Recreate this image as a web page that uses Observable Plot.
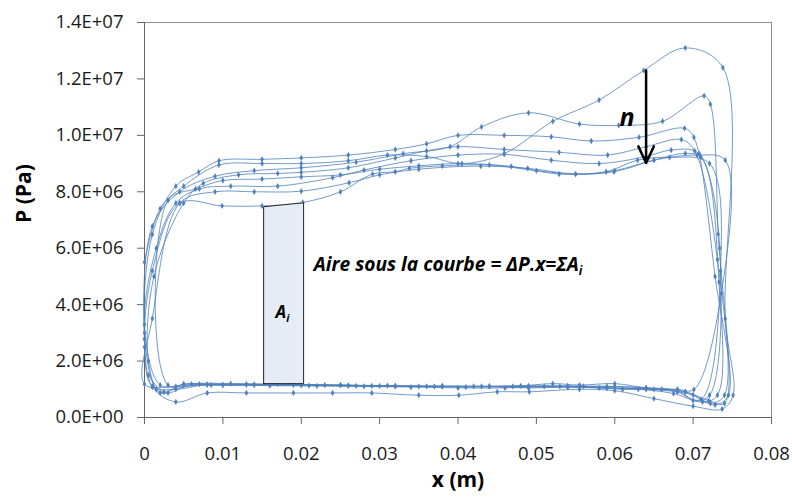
<!DOCTYPE html>
<html><head><meta charset="utf-8">
<script src="https://cdn.jsdelivr.net/npm/d3@7"></script>
<script src="https://cdn.jsdelivr.net/npm/@observablehq/plot@0.6"></script>
<style>
body{margin:0;background:#fff;}
</style></head><body><div id="chart"></div>
<script>
// P–x cycles, [x (m), P (Pa)], in recording order
const cycle1 = [[0.0000,5.5e6],[0.0020,7.4e6],[0.0050,8.2e6],[0.0095,8.95e6],[0.0150,9.0e6],[0.0200,9.0e6],[0.0260,9.1e6],[0.0310,9.3e6],[0.0360,9.25e6],[0.0405,9.0e6],[0.0459,9.35e6],[0.0521,10.5e6],[0.0580,11.25e6],[0.0637,12.3e6],[0.0690,13.1e6],[0.0738,12.4e6],[0.0741,3.5e6],[0.0751,0.79e6],[0.0737,0.3e6],[0.0700,0.4e6],[0.0650,0.67e6],[0.0600,0.95e6],[0.0555,1.0e6],[0.0491,0.91e6],[0.0450,0.91e6],[0.0401,0.79e6],[0.0350,0.79e6],[0.0290,0.87e6],[0.0240,0.87e6],[0.0190,0.87e6],[0.0130,0.87e6],[0.0080,0.87e6],[0.0040,0.55e6],[0.0010,1.09e6]];
const cycle2 = [[0.0000,2.78e6],[0.0010,6.78e6],[0.0045,8.0e6],[0.0090,8.55e6],[0.0140,8.75e6],[0.0200,8.85e6],[0.0270,9.05e6],[0.0330,9.35e6],[0.0390,9.6e6],[0.0430,10.3e6],[0.0490,10.8e6],[0.0555,10.4e6],[0.0605,10.35e6],[0.0661,10.5e6],[0.0714,11.4e6],[0.0722,11.1e6],[0.0732,6.5e6],[0.0740,0.5e6],[0.0720,0.6e6],[0.0690,0.91e6],[0.0640,1.05e6],[0.0600,1.2e6],[0.0555,1.15e6],[0.0521,1.2e6],[0.0470,1.1e6],[0.0410,1.08e6],[0.0350,1.1e6],[0.0290,1.12e6],[0.0230,1.15e6],[0.0170,1.18e6],[0.0110,1.2e6],[0.0060,1.18e6],[0.0030,0.87e6],[0.0015,1.0e6]];
const cycle3 = [[0.0000,3.0e6],[0.0010,6.49e6],[0.0040,8.2e6],[0.0069,8.7e6],[0.0095,9.1e6],[0.0150,9.15e6],[0.0200,9.2e6],[0.0260,9.3e6],[0.0320,9.5e6],[0.0360,9.7e6],[0.0400,10.0e6],[0.0459,10.0e6],[0.0519,9.95e6],[0.0570,9.8e6],[0.0631,9.93e6],[0.0689,10.25e6],[0.0701,9.93e6],[0.0728,5.0e6],[0.0745,0.79e6],[0.0728,0.45e6],[0.0700,0.8e6],[0.0660,1.0e6],[0.0600,1.1e6],[0.0540,1.09e6],[0.0490,1.05e6],[0.0440,1.1e6],[0.0380,1.1e6],[0.0320,1.12e6],[0.0260,1.12e6],[0.0200,1.15e6],[0.0140,1.15e6],[0.0085,1.15e6],[0.0050,1.18e6],[0.0020,0.87e6]];
const cycle4 = [[0.0005,2.0e6],[0.0012,5.0e6],[0.0050,7.6e6],[0.0075,8.3e6],[0.0120,8.6e6],[0.0170,8.65e6],[0.0200,8.69e6],[0.0260,8.85e6],[0.0320,9.2e6],[0.0360,9.45e6],[0.0400,9.6e6],[0.0459,9.5e6],[0.0529,9.4e6],[0.0591,9.3e6],[0.0640,9.6e6],[0.0685,9.85e6],[0.0702,9.45e6],[0.0731,5.6e6],[0.0740,0.79e6],[0.0722,0.5e6],[0.0690,0.91e6],[0.0650,1.0e6],[0.0610,1.0e6],[0.0560,1.1e6],[0.0510,1.1e6],[0.0460,1.05e6],[0.0400,1.05e6],[0.0340,1.08e6],[0.0280,1.1e6],[0.0220,1.12e6],[0.0160,1.13e6],[0.0100,1.15e6],[0.0050,1.15e6],[0.0020,1.15e6]];
const cycle5 = [[0.0000,3.3e6],[0.0015,6.0e6],[0.0040,7.6e6],[0.0070,8.1e6],[0.0110,8.2e6],[0.0170,8.2e6],[0.0240,8.5e6],[0.0280,8.77e6],[0.0340,9.1e6],[0.0400,9.3e6],[0.0459,9.33e6],[0.0519,9.12e6],[0.0580,9.0e6],[0.0640,9.25e6],[0.0672,9.48e6],[0.0708,9.34e6],[0.0733,4.8e6],[0.0731,0.79e6],[0.0712,0.55e6],[0.0675,0.85e6],[0.0630,1.0e6],[0.0580,1.05e6],[0.0530,1.1e6],[0.0480,1.12e6],[0.0420,1.1e6],[0.0360,1.1e6],[0.0300,1.12e6],[0.0250,1.15e6],[0.0190,1.16e6],[0.0130,1.16e6],[0.0080,1.16e6],[0.0040,1.1e6],[0.0000,1.18e6]];
const cycle6 = [[0.0010,3.51e6],[0.0045,7.6e6],[0.0090,8.0e6],[0.0140,8.0e6],[0.0200,8.02e6],[0.0261,8.32e6],[0.0300,8.6e6],[0.0350,8.8e6],[0.0429,8.91e6],[0.0489,8.83e6],[0.0550,8.63e6],[0.0599,8.71e6],[0.0650,9.12e6],[0.0690,9.36e6],[0.0710,9.22e6],[0.0734,6.0e6],[0.0721,0.79e6],[0.0700,0.6e6],[0.0680,0.95e6],[0.0640,1.05e6],[0.0590,1.1e6],[0.0540,1.12e6],[0.0490,1.12e6],[0.0430,1.1e6],[0.0370,1.1e6],[0.0310,1.13e6],[0.0250,1.15e6],[0.0190,1.17e6],[0.0130,1.18e6],[0.0070,1.18e6],[0.0030,1.15e6]];
const cycle7 = [[0.0030,7.7e6],[0.0065,8.1e6],[0.0100,8.4e6],[0.0150,8.45e6],[0.0200,8.53e6],[0.0250,8.6e6],[0.0300,8.8e6],[0.0350,8.92e6],[0.0400,9.0e6],[0.0468,8.9e6],[0.0529,8.63e6],[0.0589,8.71e6],[0.0629,9.12e6],[0.0670,9.22e6],[0.0721,9.0e6],[0.0735,5.2e6],[0.0710,0.64e6],[0.0680,0.9e6],[0.0640,1.0e6],[0.0590,1.05e6],[0.0540,1.08e6],[0.0490,1.1e6],[0.0440,1.1e6],[0.0380,1.12e6],[0.0320,1.12e6],[0.0260,1.14e6],[0.0200,1.15e6],[0.0140,1.17e6],[0.0080,1.17e6],[0.0040,1.0e6],[0.0010,1.09e6]];
const cycle8 = [[0.0000,2.5e6],[0.0010,5.2e6],[0.0045,7.6e6],[0.0099,7.5e6],[0.0150,7.5e6],[0.0202,7.62e6],[0.0250,8.0e6],[0.0291,8.63e6],[0.0320,8.71e6],[0.0338,8.83e6],[0.0380,8.92e6],[0.0440,8.95e6],[0.0500,8.75e6],[0.0550,8.63e6],[0.0600,8.75e6],[0.0650,9.12e6],[0.0705,9.3e6],[0.0741,9.12e6],[0.0736,4.4e6],[0.0701,0.99e6],[0.0680,1.0e6],[0.0640,1.02e6],[0.0590,1.05e6],[0.0540,1.08e6],[0.0490,1.08e6],[0.0440,1.1e6],[0.0380,1.1e6],[0.0320,1.1e6],[0.0270,1.12e6],[0.0210,1.13e6],[0.0160,1.15e6],[0.0100,1.16e6],[0.0050,1.18e6],[0.0025,0.9e6],[0.0005,1.5e6]];

// A_i strip under the curve
const stripX = [0.0152, 0.0203];
const stripTop = [7.47e6, 7.61e6];
const stripBottom = [1.2e6, 1.2e6];

// arrow "n"
const arrowX = 0.0640, arrowFrom = 12.3e6, arrowTo = 9.02e6;

const xTicks = [0, 0.01, 0.02, 0.03, 0.04, 0.05, 0.06, 0.07, 0.08];
const yTicks = [0, 2e6, 4e6, 6e6, 8e6, 10e6, 12e6, 14e6];

const xTitle = "x (m)";
const yTitle = "P (Pa)";
const aireLabel = "Aire sous la courbe = \u0394P.x=\u03A3A";
const stripLabel = "A";

const cycles = [cycle1, cycle2, cycle3, cycle4, cycle5, cycle6, cycle7, cycle8];
const pts = cycles.flatMap((c, i) => c.map(([x, p]) => ({x, p, cycle: i + 1})));
const strip = stripX.map((x, i) => ({x, t: stripTop[i], b: stripBottom[i]}));
const stripOutline = [
  {x: stripX[0], y: stripBottom[0]}, {x: stripX[0], y: stripTop[0]},
  {x: stripX[1], y: stripTop[1]}, {x: stripX[1], y: stripBottom[1]},
  {x: stripX[0], y: stripBottom[0]}
];

function sci(d) {
  const [m, e] = d.toExponential(1).split("e");
  return m + "E" + e[0] + e.slice(1).padStart(2, "0");
}
const fx = d => d === 0 ? "0" : d.toFixed(2);

const blue = "#4f81bd";
const font = "'Open Sans', sans-serif";

const plot = Plot.plot({
  width: 792, height: 500,
  marginLeft: 144, marginRight: 21, marginTop: 22, marginBottom: 83,
  x: {domain: [0, 0.08]},
  y: {domain: [0, 1.4e7]},
  style: {fontFamily: font, fontSize: "18.5px", color: "#1a1a1a", background: "#fff", overflow: "visible"},
  marks: [
    Plot.frame({stroke: "#8f8f8f"}),
    Plot.axisX({ticks: xTicks, tickFormat: fx, tickSize: 7, tickPadding: 22, stroke: "#666", label: null}),
    Plot.axisY({ticks: yTicks, tickFormat: sci, tickSize: 7, tickPadding: 14, stroke: "#666", label: null}),
    Plot.ruleX([0], {stroke: "#666"}),
    Plot.ruleY([0], {stroke: "#666"}),
    Plot.line(pts, {x: "x", y: "p", curve: "catmull-rom", stroke: blue, strokeWidth: 1, strokeOpacity: 0.8}),
    Plot.dot(pts, {x: "x", y: "p", symbol: "diamond", r: 1.9, fill: blue, stroke: "none"}),
    Plot.areaY(strip, {x: "x", y1: "b", y2: "t", fill: "#e5ecf6"}),
    Plot.line(stripOutline, {x: "x", y: "y", stroke: "#222", strokeWidth: 1}),
    Plot.arrow([{x1: arrowX, y1: arrowFrom, x2: arrowX, y2: arrowTo}], {x1: "x1", y1: "y1", x2: "x2", y2: "y2", stroke: "black", strokeWidth: 2.5, headLength: 11, headAngle: 50}),
    Plot.text(["n"], {x: 0.06156, y: 10.6e6, text: d => d, fontSize: 25, fontWeight: "bold", fontStyle: "italic", fill: "black"}),
    Plot.text([aireLabel], {x: 0.02158, y: 5.4e6, text: d => d, textAnchor: "start", fontSize: 19.2, fontWeight: "bold", fontStyle: "italic", fill: "black"}),
    Plot.text([stripLabel], {x: 0.0176, y: 3.72e6, text: d => d, fontSize: 17, fontWeight: "bold", fontStyle: "italic", fill: "black"}),
    Plot.text([xTitle], {frameAnchor: "bottom", dy: 69, text: d => d, fontSize: 21, fontWeight: "bold", fill: "black"}),
    Plot.text([yTitle], {frameAnchor: "left", dx: -120, dy: 3, rotate: -90, text: d => d, fontSize: 21, fontWeight: "bold", fill: "black"})
  ]
});

// subscript i on the A labels
d3.select(plot).selectAll("text").each(function() {
  const t = this.textContent;
  if (t === aireLabel || t === stripLabel) {
    d3.select(this).append("tspan").attr("font-size", "0.62em").attr("dy", "0.35em").text("i");
  }
});

document.getElementById("chart").appendChild(plot);
</script>
</body></html>
